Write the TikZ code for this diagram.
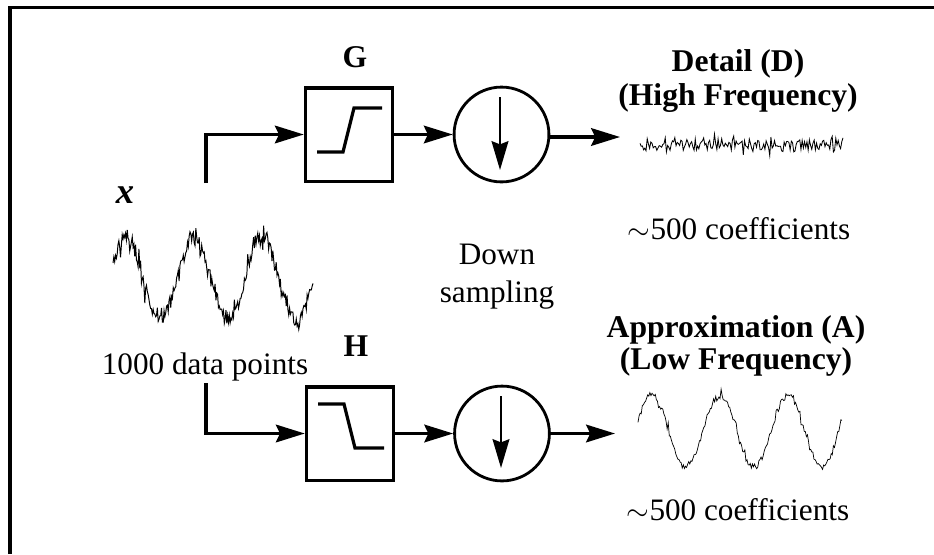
\documentclass[tikz,border=0pt]{standalone}
\usepackage{fontspec}
\setmainfont{Liberation Serif}
\usepackage{tikz}
\usetikzlibrary{arrows.meta, positioning, calc}
\tikzset{
  blockbox/.style={draw, line width=2.3pt, minimum width=2.18cm, minimum height=2.33cm, inner sep=0pt},
  downcircle/.style={draw, circle, line width=2pt, minimum size=2.37cm, inner sep=0pt},
  flow/.style={line width=2.3pt, -{Stealth[length=0.72cm,width=0.44cm,inset=0.1cm]}},
  innerflow/.style={line width=1.6pt, -{Stealth[length=0.72cm,width=0.42cm,inset=0.08cm]}},
  response/.style={line width=2.3pt},
  label/.style={font=\fontsize{22.2}{24}\selectfont, align=center, inner sep=0pt},
  heading/.style={font=\fontsize{22.5}{24}\selectfont\bfseries, align=center, inner sep=0pt}
}
\begin{document}
\begin{tikzpicture}[x=0.025cm,y=-0.025cm]
  \useasboundingbox (0,0) rectangle (934,554);
  \pgfmathsetseed{41}
  % Frame
  \draw[line width=2.8pt] (10,554) -- (10,7.5) -- (934,7.5);
  % Filter blocks
  \node[blockbox] (gbox) at (349,134.5) {};
  \node[blockbox] (hbox) at (350,433.5) {};
  \node[downcircle] (gdown) at (501.5,134.5) {};
  \node[downcircle] (hdown) at (502,433.5) {};
  % Filter responses
  \draw[response] (317,152) -- (343,152) -- (354,108) -- (382,108);
  \draw[response] (318,404) -- (344,404) -- (355,448) -- (384,448);
  % Arrows inside the circles
  \coordinate (gtip) at (500,170);
  \coordinate (gtail) at (500,97);
  \coordinate (htip) at (501,468);
  \coordinate (htail) at (501,396);
  \draw[innerflow] (gtail) -- (gtip);
  \draw[innerflow] (htail) -- (htip);
  % Input branches
  \coordinate (gstart) at (206,183);
  \coordinate (hstart) at (206,383);
  \draw[flow] (gstart) |- (gbox.west);
  \draw[flow] (hstart) |- (hbox.west);
  % Block to circle to output
  \coordinate (gout) at (620,137);
  \coordinate (hout) at (615,433.5);
  \draw[flow] (gbox.east) -- (gdown.west);
  \draw[flow] (hbox.east) -- (hdown.west);
  \draw[flow] (gdown.east |- gout) -- (gout);
  \draw[flow] (hdown.east) -- (hout);
  % Signals
  \draw[line width=0.7pt] plot[domain=113:313, samples=240]
    (\x, {278-41*cos(5.294*(\x-126))+22*(rand)*(rand)*(rand)+6*rand});
  \draw[line width=0.6pt] plot[domain=640:843, samples=170]
    (\x, {145+5*rand+14*(rand)*(rand)*(rand)});
  \draw[line width=0.5pt] plot[domain=638:842, samples=190]
    (\x, {431-36*cos(5.294*(\x-652))+3*rand+8*(rand)*(rand)*(rand)});
  % Labels
  \node[heading] (glabel) at (355,57) {G};
  \node[heading] (hlabel) at (356,346) {H};
  \node[heading, font=\fontsize{26}{26}\selectfont\bfseries\itshape] (xlabel) at (125,195) {x};
  \node[label] (points) at (205,367) {1000 data points};
  \node[label] (sampling) at (497,277) {Down\\[3pt]sampling};
  \node[heading] (detail) at (738,81) {Detail (D)\\[0pt](High Frequency)};
  \node[label] (dcoef) at (739,229) {$\sim$500 coefficients};
  \node[heading] (approx) at (736,346) {Approximation (A)\\[-1pt](Low Frequency)};
  \node[label] (acoef) at (738,510) {$\sim$500 coefficients};
\end{tikzpicture}
\end{document}
